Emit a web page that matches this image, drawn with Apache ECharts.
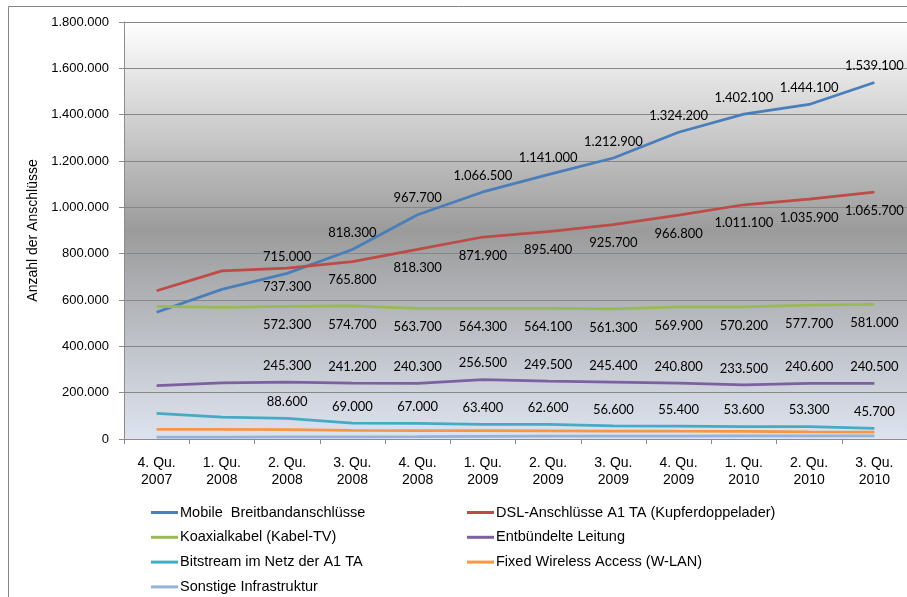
<!DOCTYPE html>
<html>
<head>
<meta charset="utf-8">
<script src="https://cdn.jsdelivr.net/npm/echarts@6/dist/echarts.min.js"></script>
<style>
  html, body { margin: 0; padding: 0; background: #ffffff; }
  #chart { width: 907px; height: 597px; }
</style>
</head>
<body>
<div id="chart"></div>
<script>
// Quarters shown on the category axis
const categories = [
  '4. Qu.\n2007', '1. Qu.\n2008', '2. Qu.\n2008', '3. Qu.\n2008',
  '4. Qu.\n2008', '1. Qu.\n2009', '2. Qu.\n2009', '3. Qu.\n2009',
  '4. Qu.\n2009', '1. Qu.\n2010', '2. Qu.\n2010', '3. Qu.\n2010'
];

// Number of connections per technology
const mobile      = [547000, 646000, 715000, 818300, 967700, 1066500, 1141000, 1212900, 1324200, 1402100, 1444100, 1539100];
const dsl         = [640000, 726000, 737300, 765800, 818300, 871900, 895400, 925700, 966800, 1011100, 1035900, 1065700];
const koax        = [573000, 568000, 572300, 574700, 563700, 564300, 564100, 561300, 569900, 570200, 577700, 581000];
const entbuendelt = [230000, 242000, 245300, 241200, 240300, 256500, 249500, 245400, 240800, 233500, 240600, 240500];
const bitstream   = [111000, 94000, 88600, 69000, 67000, 63400, 62600, 56600, 55400, 53600, 53300, 45700];
const wlan        = [42000, 41500, 41000, 37000, 36500, 36000, 35500, 34500, 33500, 33000, 31000, 30000];
const sonstige    = [8000, 8500, 9000, 9500, 10000, 11000, 12000, 12000, 12500, 13000, 13000, 13000];

// The first two quarters carry no value labels
const unlabeledQuarters = [0, 1];

// Y axis range
const yMin = 0;
const yMax = 1800000;
const yStep = 200000;

const fmt = v => String(v).replace(/\B(?=(\d{3})+(?!\d))/g, '.');

function withLabels(values) {
  return values.map((v, i) => unlabeledQuarters.includes(i)
    ? { value: v, label: { show: false } }
    : v);
}

const labelFont = { fontFamily: 'Lato', fontSize: 13, color: '#000000' };

function lineSeries(name, values, color, labelPos) {
  const s = {
    name: name,
    type: 'line',
    data: labelPos ? withLabels(values) : values,
    symbol: 'circle',
    symbolSize: 0.01,
    showSymbol: true,
    lineStyle: { color: color, width: 2.75 },
    itemStyle: { color: color },
    emphasis: { disabled: true },
    animation: false
  };
  if (labelPos) {
    s.label = Object.assign({
      show: true,
      position: labelPos,
      distance: labelPos === 'top' ? 10 : 12,
      formatter: p => fmt(p.value)
    }, labelFont);
  }
  return s;
}

const chart = echarts.init(document.getElementById('chart'), null, { renderer: 'canvas' });

const legendText = { fontFamily: 'Liberation Sans', fontSize: 14.5, color: '#000000', padding: [0, 0, 0, -3] };

chart.setOption({
  backgroundColor: '#ffffff',
  animation: false,
  graphic: [{
    type: 'rect',
    silent: true,
    shape: { x: 8.5, y: 6.5, width: 1000, height: 1000 },
    style: { fill: null, stroke: '#868686', lineWidth: 1 }
  }],
  grid: {
    left: 124, right: 0, top: 22, bottom: 158,
    show: true,
    borderWidth: 0,
    backgroundColor: new echarts.graphic.LinearGradient(0, 0, 0, 1, [
      { offset: 0, color: '#ffffff' },
      { offset: 0.5, color: '#9b9b9b' },
      { offset: 1, color: '#dde3ef' }
    ])
  },
  legend: [{
    orient: 'vertical',
    left: 151, top: 505, padding: 0, height: 120,
    itemWidth: 27, itemHeight: 3, itemGap: 9.8,
    icon: 'rect',
    textStyle: legendText,
    data: ['Mobile  Breitbandanschlüsse', 'Koaxialkabel (Kabel-TV)', 'Bitstream im Netz der A1 TA', 'Sonstige Infrastruktur']
  }, {
    orient: 'vertical',
    left: 467, top: 505, padding: 0, height: 120,
    itemWidth: 27, itemHeight: 3, itemGap: 9.8,
    icon: 'rect',
    textStyle: legendText,
    data: ['DSL-Anschlüsse A1 TA (Kupferdoppelader)', 'Entbündelte Leitung', 'Fixed Wireless Access (W-LAN)']
  }],
  xAxis: {
    type: 'category',
    data: categories,
    boundaryGap: true,
    axisLine: { lineStyle: { color: '#8c8c8c', width: 1 } },
    axisTick: { show: true, length: 5, lineStyle: { color: '#8c8c8c' } },
    axisLabel: {
      margin: 16,
      fontFamily: 'Liberation Sans', fontSize: 14, lineHeight: 17, color: '#000000',
      interval: 0
    },
    splitLine: { show: false }
  },
  yAxis: {
    type: 'value',
    min: yMin, max: yMax, interval: yStep,
    name: 'Anzahl der Anschlüsse',
    nameLocation: 'middle',
    nameGap: 83,
    nameRotate: 90,
    nameTextStyle: { fontFamily: 'Liberation Sans', fontSize: 14, color: '#000000' },
    axisLine: { show: true, lineStyle: { color: '#8c8c8c', width: 1 } },
    axisTick: { show: true, length: 5, lineStyle: { color: '#8c8c8c' } },
    axisLabel: {
      margin: 15,
      fontFamily: 'Liberation Sans', fontSize: 13, color: '#000000',
      formatter: v => fmt(v)
    },
    splitLine: { show: true, lineStyle: { color: '#878787', width: 1.2 } }
  },
  series: [
    lineSeries('Mobile  Breitbandanschlüsse', mobile, '#4a7ebb', 'top'),
    lineSeries('DSL-Anschlüsse A1 TA (Kupferdoppelader)', dsl, '#be4b48', 'bottom'),
    lineSeries('Koaxialkabel (Kabel-TV)', koax, '#98b954', 'bottom'),
    lineSeries('Entbündelte Leitung', entbuendelt, '#7d60a0', 'top'),
    lineSeries('Bitstream im Netz der A1 TA', bitstream, '#46aac5', 'top'),
    lineSeries('Fixed Wireless Access (W-LAN)', wlan, '#f79646', null),
    lineSeries('Sonstige Infrastruktur', sonstige, '#95b3d7', null)
  ]
});
</script>
</body>
</html>
